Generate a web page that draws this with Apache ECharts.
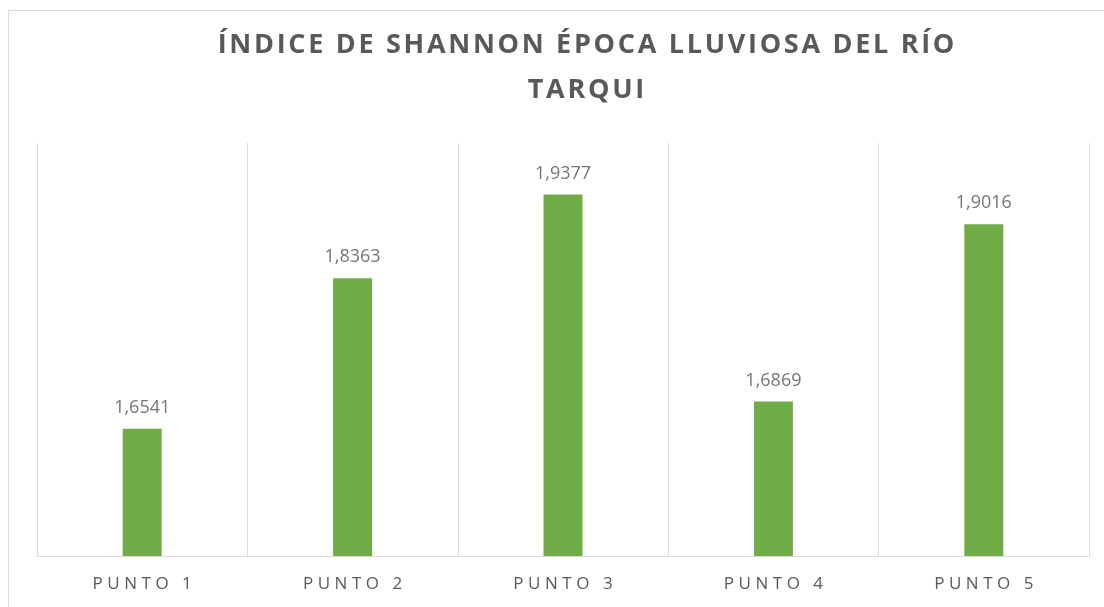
<!DOCTYPE html>
<html>
<head>
<meta charset="utf-8">
<script src="https://cdn.jsdelivr.net/npm/echarts@6/dist/echarts.min.js"></script>
<style>
  html, body { margin: 0; padding: 0; background: #fff; }
  #main { width: 1104px; height: 607px; }
</style>
</head>
<body>
<div id="main"></div>
<script>
// datos
var categorias = ['PUNTO 1', 'PUNTO 2', 'PUNTO 3', 'PUNTO 4', 'PUNTO 5'];
var valores = [1.6541, 1.8363, 1.9377, 1.6869, 1.9016];
var titulo = 'ÍNDICE DE SHANNON ÉPOCA LLUVIOSA DEL RÍO\nTARQUI';

// separa letras (Excel usa espaciado de caracteres)
var espaciar = function (txt, sep) {
  return txt.split('\n').map(function (l) {
    return l.split('').join(sep);
  }).join('\n');
};

var chart = echarts.init(document.getElementById('main'));

chart.setOption({
  animation: false,
  title: {
    text: espaciar(titulo, '\u200A'),
    left: 581,
    top: 18,
    textAlign: 'center',
    textStyle: {
      fontFamily: 'Open Sans',
      fontWeight: 'bold',
      fontSize: 27,
      color: '#595959',
      lineHeight: 45
    }
  },
  graphic: [{
    type: 'rect',
    shape: { x: 8.5, y: 10.5, width: 1200, height: 700 },
    style: { fill: 'none', stroke: '#d9d9d9', lineWidth: 1 },
    silent: true
  }],
  grid: {
    left: 37,
    right: 15,
    top: 143,
    bottom: 51
  },
  xAxis: {
    type: 'category',
    data: categorias,
    axisLine: { lineStyle: { color: '#d9d9d9', width: 1 } },
    axisTick: { show: false },
    splitLine: { show: true, lineStyle: { color: '#d9d9d9', width: 1 } },
    axisLabel: {
      margin: 20,
      fontFamily: 'Open Sans',
      fontSize: 17,
      color: '#595959',
      formatter: function (v) { return espaciar(v, '\u2009\u200A'); }
    }
  },
  yAxis: {
    type: 'value',
    min: 1.5,
    max: 2.0,
    show: false,
    splitLine: { show: false }
  },
  series: [{
    type: 'bar',
    data: valores,
    barWidth: 39,
    itemStyle: { color: '#70ad47' },
    label: {
      show: true,
      position: 'top',
      distance: 12,
      fontFamily: 'Open Sans',
      fontSize: 18,
      color: '#757575',
      formatter: function (p) { return String(p.value).replace('.', ','); }
    }
  }]
});
</script>
</body>
</html>
